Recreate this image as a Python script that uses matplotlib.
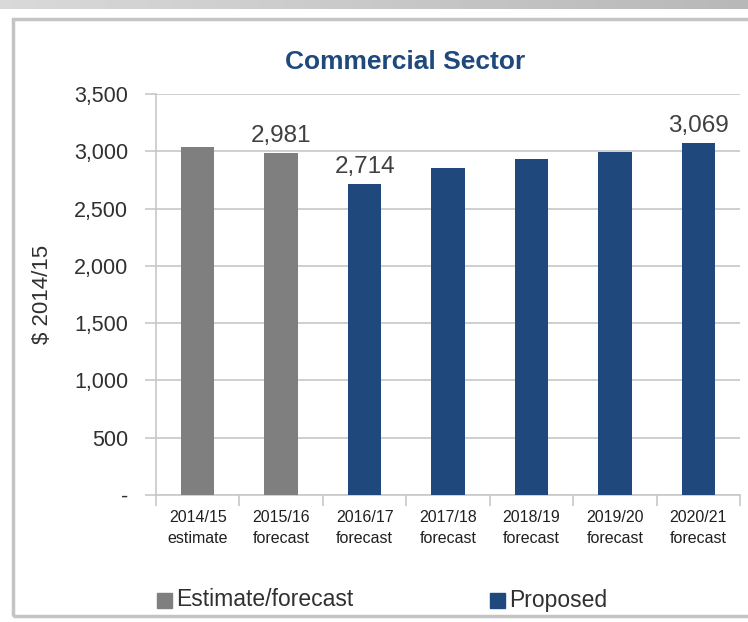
import numpy as np
import matplotlib.pyplot as plt
from matplotlib.patches import Rectangle

plt.rcParams['font.family'] = ['Liberation Sans', 'DejaVu Sans']

years = ['2014/15', '2015/16', '2016/17', '2017/18', '2018/19', '2019/20', '2020/21']
kinds = ['estimate', 'forecast', 'forecast', 'forecast', 'forecast', 'forecast', 'forecast']
values = [3035, 2981, 2714, 2852, 2930, 2995, 3069]
groups = ['Estimate/forecast', 'Estimate/forecast', 'Proposed', 'Proposed', 'Proposed', 'Proposed', 'Proposed']
labelled = {1: '2,981', 2: '2,714', 6: '3,069'}
yticks = [0, 500, 1000, 1500, 2000, 2500, 3000, 3500]

colors = {'Estimate/forecast': '#7f7f7f', 'Proposed': '#1f497d'}

fig = plt.figure(figsize=(7.48, 6.22), dpi=100)

# grey strip on top and frame round the chart
strip = fig.add_axes([0, 1 - 9 / 622, 1, 9 / 622])
strip.imshow(np.linspace(0.85, 0.72, 256).reshape(1, -1), cmap='gray', vmin=0, vmax=1,
             aspect='auto', extent=[0, 1, 0, 1])
strip.axis('off')
fig.patches.append(Rectangle((13 / 748, 1 - 616 / 622), 740 / 748, (616 - 19) / 622,
                             transform=fig.transFigure, fill=False, ec='#c4c4c4', lw=2.5))

ax = fig.add_axes([156 / 748, 1 - 495 / 622, 584 / 748, 401 / 622])
x = np.arange(len(years))
ax.bar(x, values, width=0.4, color=[colors[g] for g in groups], zorder=3)
for i, txt in labelled.items():
    ax.text(x[i], values[i] + 55, txt, ha='center', va='bottom', fontsize=17.5, color='#404040')

ax.set_xlim(-0.5, len(years) - 0.5)
ax.set_ylim(0, 3500)
ax.set_yticks(yticks)
ax.set_yticklabels(['-' if v == 0 else f'{v:,}' for v in yticks], fontsize=15.5, color='#303030')
ax.yaxis.grid(True, color='#cccccc', lw=1.3, zorder=0)
ax.set_xticks(np.arange(-0.5, len(years)), minor=False)
ax.set_xticklabels([])
ax.set_xticks(x, minor=True)
ax.set_xticklabels([f'{y}\n{k}' for y, k in zip(years, kinds)], minor=True, fontsize=11.5, color='#202020',
                   linespacing=1.5)
ax.tick_params(axis='x', which='minor', length=0, pad=11)
ax.tick_params(axis='x', which='major', length=8, color='#c8c8c8', width=1.2)
ax.tick_params(axis='y', length=8, color='#c8c8c8', width=1.2, pad=12)
for s in ['top', 'right']:
    ax.spines[s].set_visible(False)
for s in ['left', 'bottom']:
    ax.spines[s].set_color('#c8c8c8')
    ax.spines[s].set_linewidth(1.2)
ax.set_ylabel('$ 2014/15', fontsize=16, color='#303030')
ax.yaxis.set_label_coords((53 - 156) / 584, 0.5)

fig.text(405 / 748, 1 - 62 / 622, 'Commercial Sector', ha='center', va='center',
         fontsize=19, fontweight='bold', color='#1f497d')

# legend
for name, lx in [('Estimate/forecast', 157), ('Proposed', 490)]:
    fig.patches.append(Rectangle((lx / 748, 1 - 608 / 622), 15 / 748, 15 / 622,
                                 transform=fig.transFigure, color=colors[name]))
    fig.text((lx + 19) / 748, 1 - 600 / 622, name, ha='left', va='center', fontsize=16.5, color='#303030')

fig.savefig('out.png', dpi=100)
